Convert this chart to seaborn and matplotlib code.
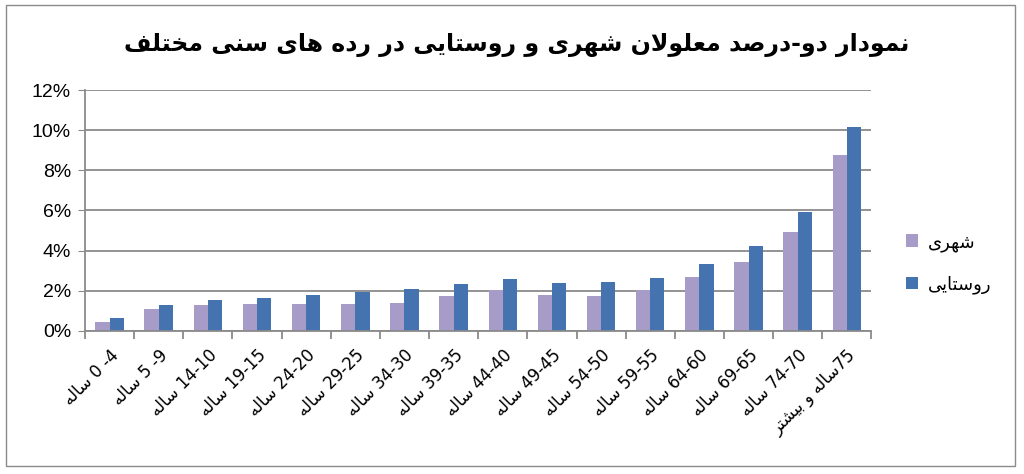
import re
import matplotlib
matplotlib.use('Agg')
import matplotlib.pyplot as plt
import seaborn as sns
import pandas as pd
from matplotlib.ticker import PercentFormatter, FixedLocator
from matplotlib.patches import Rectangle


# 1. Данные

title = 'نمودار دو-درصد معلولان شهری و روستایی در رده های سنی مختلف'
age_groups = ['0 -4 ساله', '5 -9 ساله', '14-10 ساله', '19-15 ساله', '24-20 ساله',
              '29-25 ساله', '34-30 ساله', '39-35 ساله', '44-40 ساله', '49-45 ساله',
              '54-50 ساله', '59-55 ساله', '64-60 ساله', '69-65 ساله', '74-70 ساله',
              '75ساله و بیشتر']
series_names = ['شهری', 'روستایی']
urban = [0.46, 1.08, 1.29, 1.35, 1.36, 1.36, 1.4, 1.72, 2.02, 1.8,
         1.76, 2.03, 2.7, 3.45, 4.94, 8.78]
rural = [0.63, 1.29, 1.54, 1.66, 1.8, 1.96, 2.1, 2.32, 2.56, 2.36,
         2.45, 2.65, 3.32, 4.24, 5.9, 10.17]
colors = ['#A79BC8', '#4473B0']


# 2. Простая арабская/персидская форма букв (matplotlib не делает shaping)

FORMS = {  # isolated, final, initial, medial
    'ا': ('\uFE8D', '\uFE8E', None, None),
    'ب': ('\uFE8F', '\uFE90', '\uFE91', '\uFE92'),
    'ت': ('\uFE95', '\uFE96', '\uFE97', '\uFE98'),
    'خ': ('\uFEA5', '\uFEA6', '\uFEA7', '\uFEA8'),
    'د': ('\uFEA9', '\uFEAA', None, None),
    'ر': ('\uFEAD', '\uFEAE', None, None),
    'س': ('\uFEB1', '\uFEB2', '\uFEB3', '\uFEB4'),
    'ش': ('\uFEB5', '\uFEB6', '\uFEB7', '\uFEB8'),
    'ص': ('\uFEB9', '\uFEBA', '\uFEBB', '\uFEBC'),
    'ع': ('\uFEC9', '\uFECA', '\uFECB', '\uFECC'),
    'ف': ('\uFED1', '\uFED2', '\uFED3', '\uFED4'),
    'ل': ('\uFEDD', '\uFEDE', '\uFEDF', '\uFEE0'),
    'م': ('\uFEE1', '\uFEE2', '\uFEE3', '\uFEE4'),
    'ن': ('\uFEE5', '\uFEE6', '\uFEE7', '\uFEE8'),
    'ه': ('\uFEE9', '\uFEEA', '\uFEEB', '\uFEEC'),
    'و': ('\uFEED', '\uFEEE', None, None),
    'ی': ('\uFBFC', '\uFBFD', '\uFBFE', '\uFBFF'),
}


def shape(s):
    out = []
    i = 0
    prev_joins = False
    while i < len(s):
        c = s[i]
        if c not in FORMS:
            out.append(c)
            prev_joins = False
            i += 1
            continue
        if c == 'ل' and i + 1 < len(s) and s[i + 1] == 'ا':
            out.append('\uFEFC' if prev_joins else '\uFEFB')
            prev_joins = False
            i += 2
            continue
        f = FORMS[c]
        next_joins = f[2] is not None and i + 1 < len(s) and s[i + 1] in FORMS
        if prev_joins and next_joins:
            out.append(f[3])
        elif prev_joins:
            out.append(f[1])
        elif next_joins:
            out.append(f[2])
        else:
            out.append(f[0])
        prev_joins = next_joins
        i += 1
    return ''.join(out)


def fa(s):
    tokens = re.findall(r'[0-9A-Za-z%][0-9A-Za-z% .\-]*[0-9A-Za-z%]|[0-9A-Za-z%]|[^0-9A-Za-z%]+', shape(s))
    return ''.join(t if re.match(r'[0-9A-Za-z%]', t) else t[::-1] for t in reversed(tokens))


# 3. Таблица для seaborn

df = pd.DataFrame({
    'age': age_groups * 2,
    'value': urban + rural,
    'kind': [series_names[0]] * len(age_groups) + [series_names[1]] * len(age_groups),
})


# 4. График

sns.set_style('white')
plt.rcParams['font.family'] = ['Liberation Sans', 'DejaVu Sans']
plt.rcParams['text.color'] = 'black'
plt.rcParams['xtick.labelcolor'] = 'black'
plt.rcParams['ytick.labelcolor'] = 'black'

fig = plt.figure(figsize=(10.24, 4.74), dpi=100)
ax = fig.add_axes([0.083, 0.302, 0.768, 0.508])

sns.barplot(data=df, x='age', y='value', hue='kind', palette=colors,
            width=0.58, saturation=1, linewidth=0, edgecolor='none', ax=ax, legend=True)

ax.set_xlim(-0.5, len(age_groups) - 0.5)
ax.set_ylim(0, 12)
ax.yaxis.set_major_formatter(PercentFormatter(decimals=0))
ax.set_yticks(range(0, 13, 2))
ax.grid(axis='y', color='#8a8a8a', linewidth=1.3)
ax.set_axisbelow(True)
ax.set_xlabel('')
ax.set_ylabel('')

for side in ['top', 'right']:
    ax.spines[side].set_visible(False)
for side in ['left', 'bottom']:
    ax.spines[side].set_color('#8a8a8a')
    ax.spines[side].set_linewidth(1.3)

ax.tick_params(axis='y', left=True, length=5, color='#8a8a8a', labelsize=14, pad=5)
ax.set_xticks(range(len(age_groups)))
ax.set_xticklabels([fa(a) for a in age_groups], rotation=45, ha='right',
                   rotation_mode='anchor', fontsize=12, family=['DejaVu Sans'])
ax.tick_params(axis='x', which='major', length=0, pad=11)
ax.xaxis.set_minor_locator(FixedLocator([i - 0.5 for i in range(len(age_groups) + 1)]))
ax.tick_params(axis='x', which='minor', bottom=True, length=6, width=1.3, color='#8a8a8a')

handles, labels = ax.get_legend_handles_labels()
ax.legend(handles, [fa(n) for n in series_names], loc='center left',
          bbox_to_anchor=(1.023, 0.28), frameon=False, handlelength=0.7,
          handleheight=0.7, handletextpad=0.5, labelspacing=1.3,
          prop={'family': 'DejaVu Sans', 'size': 13})

fig.text(0.505, 0.905, fa(title), ha='center', va='center', fontsize=17,
         fontweight='bold', family=['DejaVu Sans'])

fig.add_artist(Rectangle((0.006, 0.017), 0.985, 0.973, transform=fig.transFigure,
                         fill=False, edgecolor='#8a8a8a', linewidth=1))

fig.savefig('out.png', dpi=100)
